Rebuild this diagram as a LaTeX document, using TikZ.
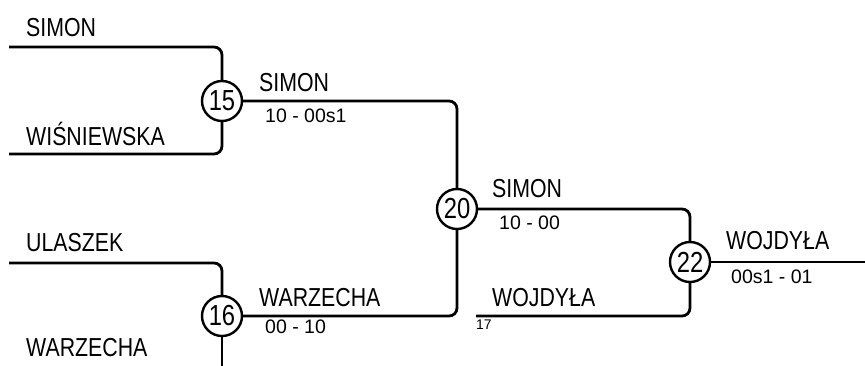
\documentclass[tikz,border=0pt]{standalone}
\usepackage{fontspec}
\setmainfont{Liberation Sans}
\newfontfamily\namefont[FakeStretch=0.82]{Liberation Sans}
\begin{document}
\begin{tikzpicture}[x=1pt,y=-1pt,
  conn/.style={line width=2.8pt,rounded corners=8pt},
  matchnode/.style={circle,draw,line width=2.4pt,minimum size=40pt,inner sep=0pt,fill=white,font=\namefont\fontsize{29}{32}\selectfont},
  pname/.style={anchor=base west,inner sep=0pt,font=\namefont\fontsize{26}{30}\selectfont},
  pscore/.style={anchor=base west,inner sep=0pt,font=\fontsize{19.5}{22}\selectfont},
  psmall/.style={anchor=base west,inner sep=0pt,font=\fontsize{14}{16}\selectfont}]
\useasboundingbox (0,0) rectangle (865,365);
% free ends
\coordinate (p1) at (9,47);
\coordinate (p2) at (9,154);
\coordinate (p3) at (9,263);
\coordinate (p4) at (222,368);
\coordinate (p17) at (476,316);
\coordinate (pend) at (866,262);
% matches
\node[matchnode] (m15) at (222,101) {15};
\node[matchnode] (m16) at (222,316) {16};
\node[matchnode] (m20) at (457,209) {20};
\node[matchnode] (m22) at (690,262) {22};
% connectors
\draw[conn] (p1) -| (m15);
\draw[conn] (p2) -| (m15);
\draw[conn] (p3) -| (m16);
\draw[conn] (m16) -- (p4);
\draw[conn] (m15) -| (m20);
\draw[conn] (m16) -| (m20);
\draw[conn] (m20) -| (m22);
\draw[conn] (p17) -| (m22);
\draw[conn] (m22) -- (pend);
% labels
\node[pname] (n1) at (26,36) {SIMON};
\node[pname] (n2) at (26,145) {WIŚNIEWSKA};
\node[pname] (n3) at (26,251) {ULASZEK};
\node[pname] (n4) at (26,356) {WARZECHA};
\node[pname] (n5) at (259,91) {SIMON};
\node[pscore] (s5) at (265,122) {10 - 00s1};
\node[pname] (n6) at (259,306) {WARZECHA};
\node[pscore] (s6) at (265,333) {00 - 10};
\node[pname] (n7) at (492,197) {SIMON};
\node[pscore] (s7) at (499,229) {10 - 00};
\node[pname] (n8) at (492,306) {WOJDYŁA};
\node[psmall] (s8) at (476,329) {17};
\node[pname] (n9) at (726,249) {WOJDYŁA};
\node[pscore] (s9) at (731,283) {00s1 - 01};
\end{tikzpicture}
\end{document}
